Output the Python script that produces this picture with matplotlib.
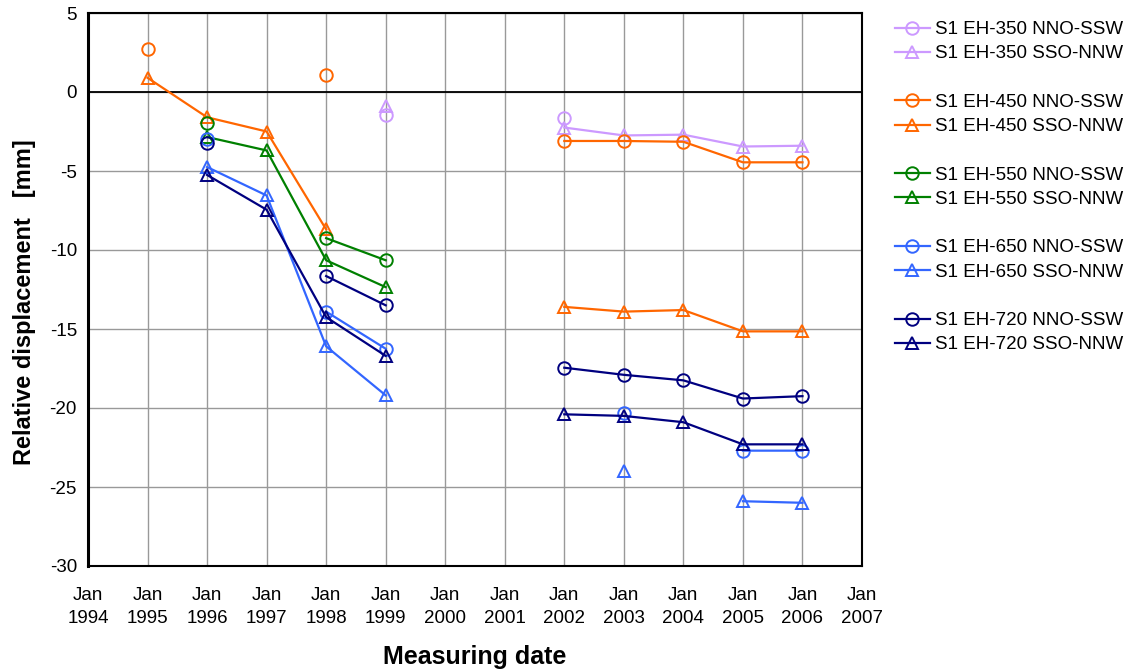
import numpy as np
import matplotlib
matplotlib.use("Agg")
import matplotlib.pyplot as plt
from matplotlib.lines import Line2D

plt.rcParams['font.family'] = ['Liberation Sans', 'DejaVu Sans']
plt.rcParams['axes.unicode_minus'] = False

nan = np.nan
years = [1995, 1996, 1997, 1998, 1999, 2000, 2001, 2002, 2003, 2004, 2005, 2006]

eh350_nno = [nan, nan, nan, nan, -1.45, nan, nan, -1.65, nan, nan, nan, nan]
eh350_sso = [nan, nan, nan, nan, -0.9, nan, nan, -2.25, -2.75, -2.7, -3.45, -3.4]
eh450_nno = [2.7, nan, nan, 1.05, nan, nan, nan, -3.1, -3.1, -3.15, -4.45, -4.45]
eh450_sso = [0.9, -1.6, -2.5, -8.7, nan, nan, nan, -13.6, -13.9, -13.8, -15.15, -15.15]
eh550_nno = [nan, -1.95, nan, -9.25, -10.65, nan, nan, nan, nan, nan, nan, nan]
eh550_sso = [nan, -2.85, -3.7, -10.65, -12.35, nan, nan, nan, nan, nan, nan, nan]
eh650_nno = [nan, -2.95, nan, -13.9, -16.25, nan, nan, nan, -20.3, nan, -22.7, -22.7]
eh650_sso = [nan, -4.75, -6.55, -16.1, -19.2, nan, nan, nan, -24.0, nan, -25.9, -26.0]
eh720_nno = [nan, -3.2, nan, -11.65, -13.5, nan, nan, -17.45, -17.9, -18.25, -19.4, -19.25]
eh720_sso = [nan, -5.25, -7.45, -14.25, -16.7, nan, nan, -20.4, -20.5, -20.9, -22.3, -22.3]

series = [
    ("S1 EH-350 NNO-SSW", eh350_nno, "#CC99FF", "o"),
    ("S1 EH-350 SSO-NNW", eh350_sso, "#CC99FF", "^"),
    ("S1 EH-450 NNO-SSW", eh450_nno, "#FF6600", "o"),
    ("S1 EH-450 SSO-NNW", eh450_sso, "#FF6600", "^"),
    ("S1 EH-550 NNO-SSW", eh550_nno, "#008000", "o"),
    ("S1 EH-550 SSO-NNW", eh550_sso, "#008000", "^"),
    ("S1 EH-650 NNO-SSW", eh650_nno, "#3366FF", "o"),
    ("S1 EH-650 SSO-NNW", eh650_sso, "#3366FF", "^"),
    ("S1 EH-720 NNO-SSW", eh720_nno, "#000080", "o"),
    ("S1 EH-720 SSO-NNW", eh720_sso, "#000080", "^"),
]

tick_years = list(range(1994, 2008))
tick_labels = [f"Jan\n{y}" for y in tick_years]

fig = plt.figure(figsize=(11.28, 6.69), dpi=100)
ax = fig.add_axes([88 / 1128, 103 / 669, (862 - 88) / 1128, (566 - 13) / 669])

ax.set_xlim(1994, 2007)
ax.set_ylim(-30, 5)
ax.set_xticks(tick_years)
ax.set_xticklabels(tick_labels, fontsize=13.5, linespacing=1.45)
ax.set_yticks(range(-30, 6, 5))
ax.tick_params(axis='both', length=0)
ax.tick_params(axis='y', labelsize=13.5, pad=8)
ax.tick_params(axis='x', pad=15)

ax.grid(True, color='#999999', linewidth=1.0)
ax.axhline(0, color='black', linewidth=1.3, zorder=1.5)
ax.set_axisbelow(True)

for s in ['top', 'right', 'bottom']:
    ax.spines[s].set_linewidth(1.5)
    ax.spines[s].set_color('black')
ax.spines['left'].set_linewidth(2.2)

handles = []
for label, vals, color, marker in series:
    ln, = ax.plot(years, vals, color=color, marker=marker, markersize=9,
                  markerfacecolor='none', markeredgecolor=color,
                  markeredgewidth=1.4, linewidth=1.6, label=label, zorder=3)
    handles.append(ln)

ax.set_xlabel("Measuring date", fontsize=18, fontweight='bold', labelpad=13)
ax.set_ylabel("Relative displacement   [mm]", fontsize=17, fontweight='bold',
              labelpad=10, y=0.478)

blank = Line2D([], [], color='none')
leg_handles, leg_labels = [], []
for i, h in enumerate(handles):
    if i > 0 and i % 2 == 0:
        leg_handles.append(blank)
        leg_labels.append(" ")
    leg_handles.append(h)
    leg_labels.append(h.get_label())

fig.legend(leg_handles, leg_labels, loc='upper left',
           bbox_to_anchor=(895 / 1128, 1 - 21 / 669), frameon=False,
           fontsize=13.5, handlelength=1.85, handletextpad=0.3,
           labelspacing=0.38, borderaxespad=0, borderpad=0)

fig.savefig("out.png", dpi=100)
